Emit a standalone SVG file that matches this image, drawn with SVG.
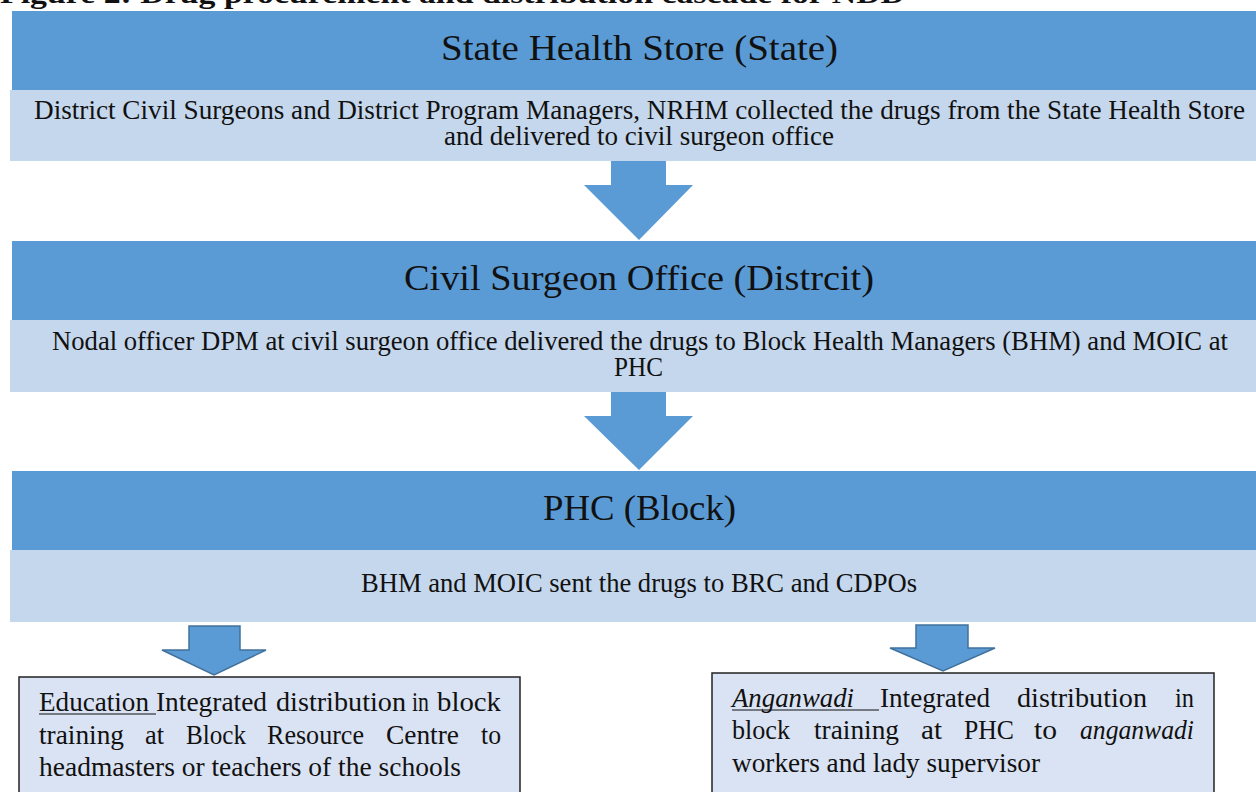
<svg xmlns="http://www.w3.org/2000/svg" width="1256" height="792" viewBox="0 0 1256 792">
<style>
.dark{fill:#5B9BD5}
.light{fill:#C5D7EC}
.arrow{fill:#5B9BD5}
.sarrow{fill:#5B9BD5;stroke:#41719C;stroke-width:1.5}
.box{fill:#DAE3F3;stroke:#222;stroke-width:1.5}
.ul{stroke:#111;stroke-width:1.2}
text{font-family:"Liberation Serif",serif;fill:#111}
.h{font-size:36px;text-anchor:middle}
.b{font-size:27px;text-anchor:middle}
.t{font-size:26.5px}
.i{font-style:italic}
</style>
<rect width="1256" height="792" fill="#fff"/>
<text x="0" y="3" style="font-size:28px;font-weight:bold" textLength="905" lengthAdjust="spacingAndGlyphs">Figure 2: Drug procurement and distribution cascade for NDD</text>
<g id="connectors">
<polygon class="arrow" points="611,161 666,161 666,185 693,185 639,240 584,185 611,185"/>
<polygon class="arrow" points="611,392 666,392 666,416 693,416 639,470 584,416 611,416"/>
<polygon class="sarrow" points="189,626 240,626 240,650 266,650 214,675 162,650 189,650"/>
<polygon class="sarrow" points="916,625 968,625 968,648 995,648 943,671 890,648 916,648"/>
</g>
<g id="state">
<rect class="dark" x="12" y="11" width="1244" height="80"/>
<rect class="light" x="10" y="90" width="1246" height="71"/>
<text class="h" x="639.5" y="60" textLength="397" lengthAdjust="spacingAndGlyphs">State Health Store (State)</text>
<text class="b" x="639.5" y="119" textLength="1211" lengthAdjust="spacingAndGlyphs">District Civil Surgeons and District Program Managers, NRHM collected the drugs from the State Health Store</text>
<text class="b" x="639" y="145" textLength="390" lengthAdjust="spacingAndGlyphs">and delivered to civil surgeon office</text>
</g>
<g id="district">
<rect class="dark" x="12" y="241" width="1244" height="80"/>
<rect class="light" x="10" y="320" width="1246" height="72"/>
<text class="h" x="639" y="290" textLength="470" lengthAdjust="spacingAndGlyphs">Civil Surgeon Office (Distrcit)</text>
<text class="b" x="640" y="350" textLength="1176" lengthAdjust="spacingAndGlyphs">Nodal officer DPM at civil surgeon office delivered the drugs to Block Health Managers (BHM) and MOIC at</text>
<text class="b" x="638.5" y="376" textLength="49" lengthAdjust="spacingAndGlyphs">PHC</text>
</g>
<g id="block">
<rect class="dark" x="12" y="471" width="1244" height="80"/>
<rect class="light" x="10" y="550" width="1246" height="72"/>
<text class="h" x="639.5" y="520" textLength="193" lengthAdjust="spacingAndGlyphs">PHC (Block)</text>
<text class="b" x="639" y="592" textLength="556" lengthAdjust="spacingAndGlyphs">BHM and MOIC sent the drugs to BRC and CDPOs</text>
</g>
<g id="education">
<rect class="box" x="19" y="677" width="501" height="125"/>
<text class="t" x="39" y="711" textLength="110" lengthAdjust="spacingAndGlyphs">Education</text>
<line class="ul" x1="39" y1="714" x2="156" y2="714"/>
<text class="t" x="156" y="711" textLength="111" lengthAdjust="spacingAndGlyphs">Integrated</text>
<text class="t" x="276" y="711" textLength="130" lengthAdjust="spacingAndGlyphs">distribution</text>
<text class="t" x="412" y="711" textLength="17" lengthAdjust="spacingAndGlyphs">in</text>
<text class="t" x="437" y="711" textLength="64" lengthAdjust="spacingAndGlyphs">block</text>
<text class="t" x="39" y="744" textLength="85" lengthAdjust="spacingAndGlyphs">training</text>
<text class="t" x="145" y="744" textLength="19" lengthAdjust="spacingAndGlyphs">at</text>
<text class="t" x="186" y="744" textLength="60" lengthAdjust="spacingAndGlyphs">Block</text>
<text class="t" x="267" y="744" textLength="97" lengthAdjust="spacingAndGlyphs">Resource</text>
<text class="t" x="386" y="744" textLength="73" lengthAdjust="spacingAndGlyphs">Centre</text>
<text class="t" x="481" y="744" textLength="20" lengthAdjust="spacingAndGlyphs">to</text>
<text class="t" x="39" y="776" textLength="422" lengthAdjust="spacingAndGlyphs">headmasters or teachers of the schools</text>
</g>
<g id="anganwadi">
<rect class="box" x="712" y="673" width="502" height="129"/>
<text class="t i" x="732" y="707" textLength="122" lengthAdjust="spacingAndGlyphs">Anganwadi</text>
<line class="ul" x1="732" y1="710" x2="879" y2="710"/>
<text class="t" x="880" y="707" textLength="110" lengthAdjust="spacingAndGlyphs">Integrated</text>
<text class="t" x="1017" y="707" textLength="130" lengthAdjust="spacingAndGlyphs">distribution</text>
<text class="t" x="1175" y="707" textLength="19" lengthAdjust="spacingAndGlyphs">in</text>
<text class="t" x="732" y="739" textLength="58" lengthAdjust="spacingAndGlyphs">block</text>
<text class="t" x="814" y="739" textLength="85" lengthAdjust="spacingAndGlyphs">training</text>
<text class="t" x="921" y="739" textLength="21" lengthAdjust="spacingAndGlyphs">at</text>
<text class="t" x="964" y="739" textLength="50" lengthAdjust="spacingAndGlyphs">PHC</text>
<text class="t" x="1034" y="739" textLength="23" lengthAdjust="spacingAndGlyphs">to</text>
<text class="t i" x="1080" y="739" textLength="114" lengthAdjust="spacingAndGlyphs">anganwadi</text>
<text class="t" x="732" y="772" textLength="308" lengthAdjust="spacingAndGlyphs">workers and lady supervisor</text>
</g>
</svg>
